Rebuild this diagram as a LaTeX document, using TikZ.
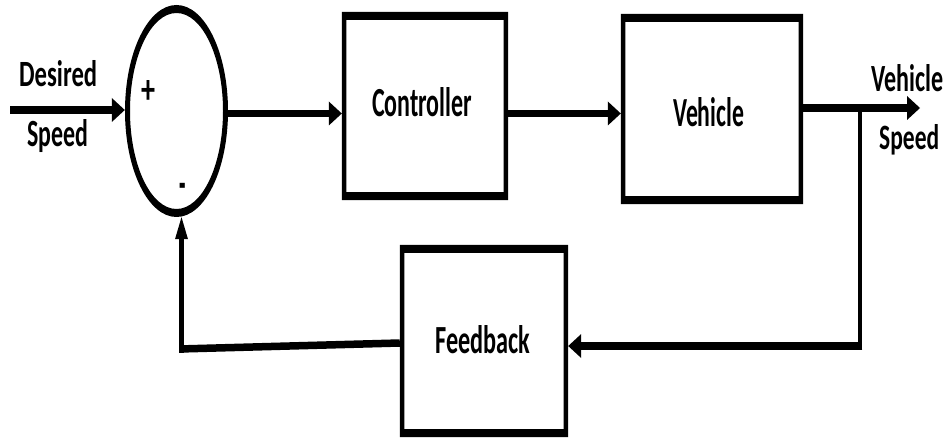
\documentclass[tikz,border=0pt]{standalone}
\usepackage{fontspec}
\setmainfont{Carlito}
\usetikzlibrary{arrows.meta,calc,shapes.geometric}
\begin{document}
\begin{tikzpicture}[x=1pt,y=-1pt,
  hline/.style={line width=7.5pt},
  vline/.style={line width=4.5pt},
  harr/.style={hline,-{Triangle[length=13pt,width=24pt,line width=0pt]}},
  varr/.style={vline,-{Triangle[length=22pt,width=13pt,line width=0pt]}},
  blk/.style={rectangle,inner sep=0pt},
  lbl/.style={inner sep=0pt,font=\bfseries,anchor=base west}]
\useasboundingbox (0,0) rectangle (949,438);
% summing junction
\node[ellipse,inner sep=0pt,minimum width=103pt,minimum height=212pt] (sum) at (176.5,111) {};
\fill[even odd rule] (sum.center) ellipse[x radius=51.5pt,y radius=106pt]
                     (sum.center) ellipse[x radius=46.5pt,y radius=98pt];
% blocks
\node[blk,minimum width=166pt,minimum height=188pt] (ctrl) at (425,106) {};
\node[blk,minimum width=182pt,minimum height=190pt] (veh) at (712,109) {};
\node[blk,minimum width=168pt,minimum height=192pt] (fb) at (484,341) {};
\foreach \n in {ctrl,veh,fb}
  \fill[even odd rule] (\n.north west) rectangle (\n.south east)
    ($(\n.north west)+(4.5,8)$) rectangle ($(\n.south east)+(-4.5,-8)$);
% labels
\node[lbl] (tctrl) at (372,117) {\resizebox{100pt}{29pt}{Controller}};
\node[lbl] (tveh) at (673,127) {\resizebox{71pt}{29pt}{Vehicle}};
\node[lbl] (tfb) at (435,353) {\resizebox{95pt}{28pt}{Feedback}};
\node[lbl] (tdes) at (19,87) {\resizebox{78pt}{26pt}{Desired}};
\node[lbl] (tsp1) at (27,147) {\resizebox{61pt}{27pt}{Speed}};
\node[lbl] (tvs) at (871,92) {\resizebox{72pt}{27pt}{Vehicle}};
\node[lbl] (tsp2) at (879,150) {\resizebox{60pt}{25pt}{Speed}};
\node[inner sep=0pt,font=\bfseries] (plus) at (148,92) {\resizebox{14pt}{23pt}{+}};
\node[inner sep=0pt,font=\bfseries,anchor=base] (minus) at (183,200) {\scalebox{0.7}[1.6]{\fontsize{30pt}{30pt}\selectfont -}};
% coordinates
\coordinate (in) at (10,110);
\coordinate (yA) at (0,113.5);
\coordinate (out) at (920,108);
\coordinate (br) at (860,108);
\coordinate (c1) at (860,349.75);
\coordinate (c1h) at (862.25,346);
\coordinate (c2) at (181.5,352.75);
\coordinate (c2h) at (179.25,349);
\coordinate (yF) at (0,343);
% connectors
\draw[harr] (in) -- (in -| sum.west);
\draw[harr] (sum.east |- yA) -- (ctrl.west |- yA);
\draw[harr] (ctrl.east |- yA) -- (veh.west |- yA);
\draw[harr] (veh.east |- out) -- (out);
\draw[vline] (br) -- (c1);
\draw[harr] (c1h) -- (fb.east |- c1h);
\draw[hline] (fb.west |- yF) -- (c2h);
\draw[varr] (c2) -- (c2 |- sum.south);
\end{tikzpicture}
\end{document}
